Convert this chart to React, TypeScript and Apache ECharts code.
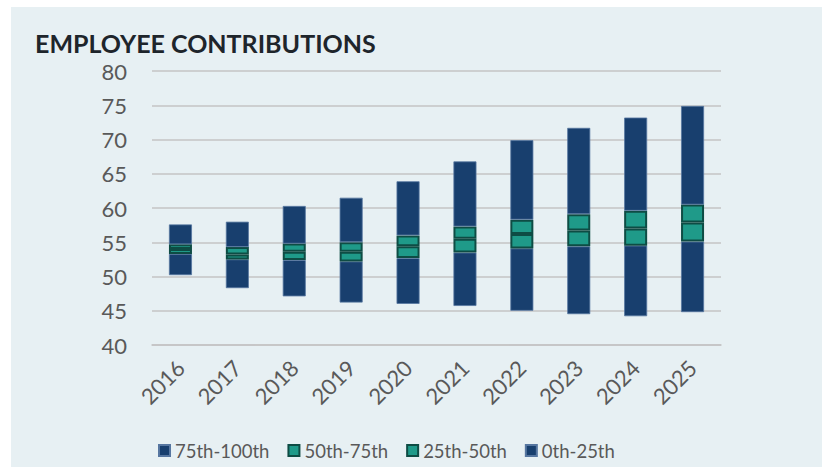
import React, { useEffect, useRef } from "react";
import * as echarts from "echarts";

const years = ["2016", "2017", "2018", "2019", "2020", "2021", "2022", "2023", "2024", "2025"];
const p0 = [50.2, 48.3, 47.1, 46.2, 46.0, 45.7, 45.0, 44.5, 44.2, 44.8];
const p25 = [53.3, 52.5, 52.4, 52.2, 52.7, 53.5, 54.1, 54.4, 54.5, 55.1];
const p50 = [54.0, 53.2, 53.6, 53.6, 54.4, 55.5, 56.2, 56.7, 57.0, 57.9];
const p75 = [54.7, 54.3, 54.8, 55.0, 56.0, 57.3, 58.3, 59.1, 59.6, 60.5];
const p100 = [57.6, 58.0, 60.3, 61.5, 63.9, 66.8, 69.9, 71.7, 73.2, 74.9];
const legendNames = ["75th-100th", "50th-75th", "25th-50th", "0th-25th"];

const diff = (a: number[], b: number[]) => a.map((v, i) => +(v - b[i]).toFixed(2));

const FONT = "Lato";
const BLUE = "#183f6e";
const TEAL = "#1f9a89";
const TEAL_BORDER = "#0e4c44";

export default function App() {
  const ref = useRef<HTMLDivElement>(null);
  useEffect(() => {
    if (!ref.current) return;
    const chart = echarts.init(ref.current, undefined, { renderer: "svg" });
    const blueStyle = { color: BLUE, borderColor: "#5676a0", borderWidth: 0.8 };
    const tealStyle = { color: TEAL, borderColor: TEAL_BORDER, borderWidth: 2 };
    chart.setOption({
      animation: false,
      backgroundColor: "#ffffff",
      textStyle: { fontFamily: FONT },
      graphic: [
        {
          type: "rect",
          z: -10,
          silent: true,
          shape: { x: 11, y: 7, width: 811, height: 460 },
          style: { fill: "#e7f0f3" },
        },
      ],
      title: {
        text: "EMPLOYEE CONTRIBUTIONS",
        left: 30,
        top: 25,
        textStyle: { fontFamily: FONT, fontWeight: "bold", fontSize: 25, color: "#1e252b" },
      },
      grid: { left: 152, right: 101, top: 71, bottom: 122, containLabel: false, outerBoundsMode: "none" },
      legend: {
        data: legendNames,
        left: 153,
        top: 436,
        itemWidth: 11,
        itemHeight: 11,
        itemGap: 18,
        icon: "rect",
        textStyle: { fontFamily: FONT, fontSize: 18.5, color: "#595959" },
      },
      xAxis: {
        type: "category",
        data: years,
        axisLine: { show: true, lineStyle: { color: "#c4c4c4", width: 1.5 } },
        axisTick: { show: false },
        axisLabel: { rotate: 45, margin: 19, fontFamily: FONT, fontSize: 22, color: "#595959" },
      },
      yAxis: {
        type: "value",
        min: 40,
        max: 80,
        interval: 5,
        axisLine: { show: false },
        axisTick: { show: false },
        splitLine: { lineStyle: { color: "#c4c4c4", width: 1.5 } },
        axisLabel: { margin: 25, fontFamily: FONT, fontSize: 22, color: "#595959" },
      },
      series: [
        {
          name: "base",
          type: "bar",
          stack: "s",
          barWidth: 23,
          data: p0,
          itemStyle: { color: "transparent" },
          silent: true,
        },
        { name: "0th-25th", type: "bar", stack: "s", barWidth: 23, data: diff(p25, p0), itemStyle: blueStyle },
        { name: "25th-50th", type: "bar", stack: "s", barWidth: 23, data: diff(p50, p25), itemStyle: tealStyle },
        { name: "50th-75th", type: "bar", stack: "s", barWidth: 23, data: diff(p75, p50), itemStyle: tealStyle },
        { name: "75th-100th", type: "bar", stack: "s", barWidth: 23, data: diff(p100, p75), itemStyle: blueStyle },
      ],
    });
    return () => chart.dispose();
  }, []);
  return (
    <div
      ref={ref}
      style={{ position: "fixed", left: 0, top: 0, width: 822, height: 467 }}
    />
  );
}
